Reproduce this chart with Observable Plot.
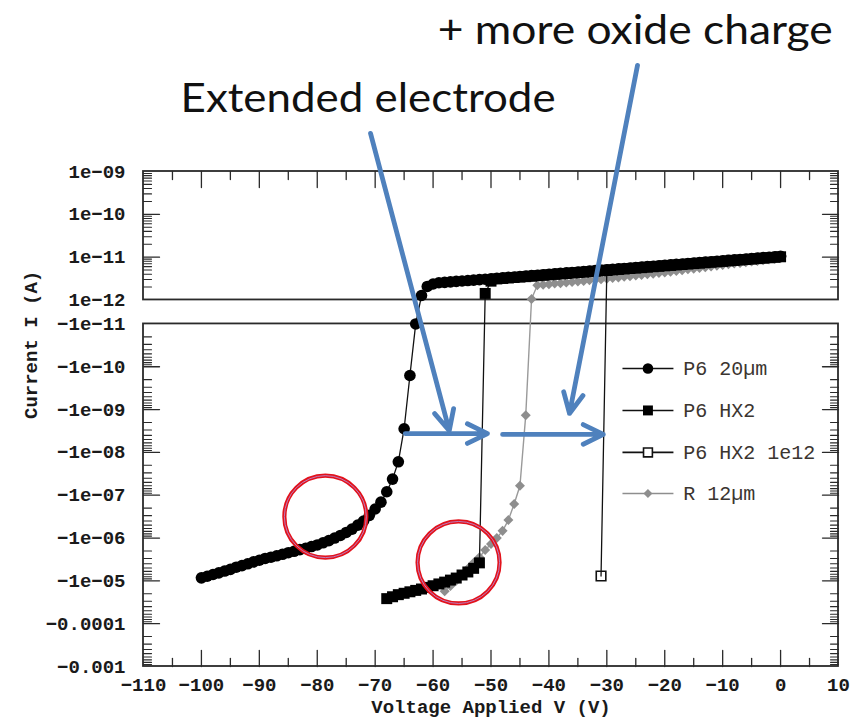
<!DOCTYPE html>
<html><head><meta charset="utf-8">
<script src="https://cdn.jsdelivr.net/npm/d3@7"></script>
<script src="https://cdn.jsdelivr.net/npm/@observablehq/plot@0.6"></script>
<style>
html,body{margin:0;padding:0;background:#fff}
#chart{width:858px;height:720px}
</style>
</head><body><div id="chart"></div>
<script>
// ---------------- data ----------------
const seriesNames = ["P6 20µm", "P6 HX2", "P6 HX2 1e12", "R 12µm"];

const voltsP6_20 = d3.range(-100, 1);
const currentP6_20 = [
  -8.5e-6,-7.8e-6,-7.1e-6,-6.5e-6,-5.9e-6,-5.4e-6,-4.8e-6,-4.4e-6,-4.0e-6,-3.6e-6,
  -3.3e-6,-3.0e-6,-2.8e-6,-2.6e-6,-2.4e-6,-2.2e-6,-2.04e-6,-1.86e-6,-1.74e-6,-1.58e-6,
  -1.45e-6,-1.29e-6,-1.15e-6,-1.0e-6,-8.7e-7,-7.4e-7,-6.2e-7,-5.0e-7,-4.0e-7,-2.95e-7,
  -2.1e-7,-1.45e-7,-8.3e-8,-4.2e-8,-1.66e-8,-2.8e-9,-1.6e-10,-1.0e-11,
  1.27e-12,2.07e-12,2.36e-12,
  2.52e-12,2.58e-12,2.64e-12,2.71e-12,2.77e-12,2.84e-12,2.91e-12,2.98e-12,3.05e-12,3.13e-12,
  3.20e-12,3.28e-12,3.36e-12,3.44e-12,3.53e-12,3.61e-12,3.70e-12,3.79e-12,3.89e-12,3.98e-12,
  4.08e-12,4.18e-12,4.28e-12,4.39e-12,4.49e-12,4.60e-12,4.72e-12,4.83e-12,4.95e-12,5.07e-12,
  5.19e-12,5.32e-12,5.45e-12,5.59e-12,5.72e-12,5.86e-12,6.01e-12,6.15e-12,6.30e-12,6.46e-12,
  6.62e-12,6.78e-12,6.94e-12,7.11e-12,7.29e-12,7.46e-12,7.65e-12,7.83e-12,8.02e-12,8.22e-12,
  8.42e-12,8.63e-12,8.84e-12,9.05e-12,9.27e-12,9.50e-12,9.73e-12,9.97e-12,1.02e-11,1.05e-11
];

const voltsHX2 = d3.range(-68, 1);
const currentHX2 = [
  -2.6e-5,-2.35e-5,-2.1e-5,-1.95e-5,-1.8e-5,-1.67e-5,-1.55e-5,-1.42e-5,-1.3e-5,-1.18e-5,
  -1.07e-5,-9.6e-6,-8.6e-6,-7.3e-6,-6.2e-6,-5.1e-6,-3.8e-6,
  1.42e-12,2.75e-12,
  3.10e-12,3.18e-12,3.26e-12,3.34e-12,3.42e-12,3.50e-12,3.59e-12,3.68e-12,3.77e-12,3.86e-12,
  3.96e-12,4.05e-12,4.15e-12,4.26e-12,4.36e-12,4.46e-12,4.58e-12,4.69e-12,4.80e-12,4.92e-12,
  5.03e-12,5.16e-12,5.29e-12,5.42e-12,5.55e-12,5.68e-12,5.83e-12,5.97e-12,6.11e-12,6.27e-12,
  6.42e-12,6.58e-12,6.73e-12,6.90e-12,7.07e-12,7.24e-12,7.42e-12,7.60e-12,7.78e-12,7.97e-12,
  8.17e-12,8.37e-12,8.57e-12,8.78e-12,8.99e-12,9.22e-12,9.44e-12,9.67e-12,9.89e-12,1.02e-11
];

const voltsHX2_1e12 = [-31, -30];
const currentHX2_1e12 = [-7.7e-6, 4.92e-12];

const voltsR12 = d3.range(-58, 1);
const currentR12 = [
  -1.74e-5,-1.32e-5,-1.0e-5,-7.2e-6,-5.2e-6,-3.8e-6,-2.8e-6,-1.9e-6,-1.38e-6,-1.0e-6,
  -6.8e-7,-3.8e-7,-1.6e-7,-6.0e-8,-1.35e-9,
  1.05e-12,2.2e-12,
  2.26e-12,2.33e-12,2.41e-12,2.47e-12,2.55e-12,2.63e-12,2.69e-12,2.78e-12,2.88e-12,2.95e-12,
  3.04e-12,3.14e-12,3.25e-12,3.36e-12,3.48e-12,3.60e-12,3.72e-12,3.84e-12,3.98e-12,4.11e-12,
  4.25e-12,4.39e-12,4.57e-12,4.75e-12,4.93e-12,5.19e-12,5.39e-12,5.60e-12,5.81e-12,6.03e-12,
  6.30e-12,6.58e-12,6.82e-12,7.08e-12,7.34e-12,7.60e-12,7.88e-12,8.17e-12,8.47e-12,8.77e-12,
  9.08e-12,9.45e-12
];

const xTickValues = [-110,-100,-90,-80,-70,-60,-50,-40,-30,-20,-10,0,10];
const xTickLabels = ["−110","−100","−90","−80","−70","−60","−50","−40","−30","−20","−10","0","10"];
const yTickValues = [1e-9,1e-10,1e-11,1e-12,-1e-11,-1e-10,-1e-9,-1e-8,-1e-7,-1e-6,-1e-5,-1e-4,-1e-3];
const yTickLabels = ["1e−09","1e−10","1e−11","1e−12","−1e−11","−1e−10","−1e−09","−1e−08","−1e−07","−1e−06","−1e−05","−0.0001","−0.001"];

const xTitle = "Voltage Applied V (V)";
const yTitle = "Current I (A)";
const noteElectrode = "Extended electrode";
const noteOxide = "+ more oxide charge";

// ---------------- layout (axis transform: two log panels, positive on top, negative below) ----------------
const X_DOMAIN = [-110, 10];
const GAP = 0.56;                 // gap between panels, in decades
const T_DOMAIN = [-GAP - 8, 3];   // -1e-3 ... 1e-9
function toT(I) { return I > 0 ? Math.log10(I) + 12 : -GAP - (Math.log10(-I) + 11); }

const panels = [
  {x1: X_DOMAIN[0], x2: X_DOMAIN[1], y1: toT(1e-12), y2: toT(1e-9)},
  {x1: X_DOMAIN[0], x2: X_DOMAIN[1], y1: toT(-1e-3), y2: toT(-1e-11)}
];

const rows = (V, I, s) => V.map((v, i) => ({V: v, I: I[i], t: toT(I[i]), series: s}));
const rowsP6 = rows(voltsP6_20, currentP6_20, seriesNames[0]);
const rowsHX2 = rows(voltsHX2, currentHX2, seriesNames[1]);
const rows1e12 = rows(voltsHX2_1e12, currentHX2_1e12, seriesNames[2]);
const rowsR = rows(voltsR12, currentR12, seriesNames[3]);

// ticks
const xMajor = xTickValues.slice(1, -1);
const xMinor = xTickValues.slice(0, -1).map(v => v + 5);
const yMajor = [1e-11, 1e-10, -1e-10, -1e-9, -1e-8, -1e-7, -1e-6, -1e-5, -1e-4];
const yMinor = [];
for (const d of [-12, -11, -10]) for (let k = 2; k <= 9; k++) yMinor.push(k * Math.pow(10, d));
for (let d = -11; d <= -4; d++) for (let k = 2; k <= 9; k++) yMinor.push(-k * Math.pow(10, d));

const tickShape = {draw(ctx, l) { ctx.moveTo(0, 0); ctx.lineTo(0, -l); }};
const diamond = {draw(ctx, size) { const h = Math.sqrt(size / 2); ctx.moveTo(0, -h); ctx.lineTo(h, 0); ctx.lineTo(0, h); ctx.lineTo(-h, 0); ctx.closePath(); }};

const AXIS = "#2a2a2a";
const BLUE = "#4f81bd";
const MONO = "Liberation Mono, DejaVu Sans Mono, monospace";

// annotations (data coordinates: V, t)
const arrows = [
  {x1: -70.8, y1: 3.89, x2: -57.2, y2: -3.05},
  {x1: -24.7, y1: 5.48, x2: -36.45, y2: -2.65},
  {x1: -64.8, y1: -3.12, x2: -50.6, y2: -3.12},
  {x1: -48.0, y1: -3.14, x2: -30.6, y2: -3.14}
];
const rings = [{V: -78.6, t: -5.06}, {V: -55.6, t: -6.13}];
const notes = [
  {V: -103.6, t: 4.38, text: noteElectrode, len: 375},
  {V: -59.2, t: 5.97, text: noteOxide, len: 395}
];
const legendT = [-1.60, -2.58, -3.56, -4.52];
const legendX = {line1: -27.3, line2: -18.5, mark: -22.9, text: -16.8};
const legendStyle = [
  {symbol: "circle", r: 5.3, fill: "#000", stroke: "none", line: "#111"},
  {symbol: "square", r: 5.6, fill: "#000", stroke: "none", line: "#111"},
  {symbol: "square", r: 5.0, fill: "#fff", stroke: "#111", line: "#111"},
  {symbol: diamond, r: 3.6, fill: "#8e8e8e", stroke: "none", line: "#8e8e8e"}
];
const legendRows = seriesNames.map((name, i) => ({name, t: legendT[i], ...legendStyle[i]}));

const chart = Plot.plot({
  width: 858, height: 720,
  marginLeft: 143, marginRight: 20, marginTop: 171, marginBottom: 54,
  x: {domain: X_DOMAIN, axis: null},
  y: {domain: T_DOMAIN, axis: null},
  style: {background: "#fff", overflow: "visible"},
  marks: [
    // ticks
    Plot.vector(xMajor, {x: d => d, frameAnchor: "top", anchor: "start", rotate: 180, length: 16, shape: tickShape, stroke: AXIS, strokeWidth: 1.3}),
    Plot.vector(xMinor, {x: d => d, frameAnchor: "top", anchor: "start", rotate: 180, length: 8, shape: tickShape, stroke: AXIS, strokeWidth: 1.3}),
    Plot.vector(xMajor, {x: d => d, frameAnchor: "bottom", anchor: "start", rotate: 0, length: 16, shape: tickShape, stroke: AXIS, strokeWidth: 1.3}),
    Plot.vector(xMinor, {x: d => d, frameAnchor: "bottom", anchor: "start", rotate: 0, length: 8, shape: tickShape, stroke: AXIS, strokeWidth: 1.3}),
    Plot.vector(yMajor, {y: d => toT(d), frameAnchor: "left", anchor: "start", rotate: 90, length: 16, shape: tickShape, stroke: AXIS, strokeWidth: 1.3}),
    Plot.vector(yMinor, {y: d => toT(d), frameAnchor: "left", anchor: "start", rotate: 90, length: 8, shape: tickShape, stroke: AXIS, strokeWidth: 1.1}),
    Plot.vector(yMajor, {y: d => toT(d), frameAnchor: "right", anchor: "start", rotate: -90, length: 16, shape: tickShape, stroke: AXIS, strokeWidth: 1.3}),
    Plot.vector(yMinor, {y: d => toT(d), frameAnchor: "right", anchor: "start", rotate: -90, length: 8, shape: tickShape, stroke: AXIS, strokeWidth: 1.1}),
    // panel frames
    Plot.rect(panels, {x1: "x1", x2: "x2", y1: "y1", y2: "y2", fill: "none", stroke: AXIS, strokeWidth: 1.8}),
    // tick labels
    Plot.text(xTickValues, {x: d => d, frameAnchor: "bottom", dy: 24, text: (d, i) => xTickLabels[i], fontFamily: MONO, fontWeight: "bold", fontSize: 19, fill: "#1a1a1a"}),
    Plot.text(yTickValues, {y: d => toT(d), frameAnchor: "left", dx: -18, textAnchor: "end", text: (d, i) => yTickLabels[i], fontFamily: MONO, fontWeight: "bold", fontSize: 19, fill: "#1a1a1a"}),
    Plot.text([xTitle], {frameAnchor: "bottom", dy: 46, text: d => d, fontFamily: MONO, fontWeight: "bold", fontSize: 19, fill: "#1a1a1a"}),
    Plot.text([yTitle], {frameAnchor: "left", dx: -113, rotate: -90, text: d => d, fontFamily: MONO, fontWeight: "bold", fontSize: 19, fill: "#1a1a1a"}),
    // series
    Plot.line(rowsR, {x: "V", y: "t", stroke: "#9a9a9a", strokeWidth: 1.4}),
    Plot.dot(rowsR, {x: "V", y: "t", symbol: diamond, r: 4.0, fill: "#8e8e8e"}),
    Plot.dot(rows1e12, {x: "V", y: "t", symbol: "square", r: 5.4, fill: "#fff", stroke: "#111", strokeWidth: 1.6}),
    Plot.line(rows1e12, {x: "V", y: "t", stroke: "#111", strokeWidth: 1.3}),
    Plot.line(rowsHX2, {x: "V", y: "t", stroke: "#111", strokeWidth: 1.3}),
    Plot.dot(rowsHX2, {x: "V", y: "t", symbol: "square", r: 6.2, fill: "#000"}),
    Plot.line(rowsP6, {x: "V", y: "t", stroke: "#111", strokeWidth: 1.3}),
    Plot.dot(rowsP6, {x: "V", y: "t", r: 5.8, fill: "#000"}),
    // legend
    Plot.link(legendRows, {x1: () => legendX.line1, x2: () => legendX.line2, y1: "t", y2: "t", stroke: d => d.line, strokeWidth: 1.6}),
    ...legendRows.map(d => Plot.dot([d], {x: () => legendX.mark, y: "t", symbol: d.symbol, r: d.r, fill: d.fill, stroke: d.stroke, strokeWidth: 1.6})),
    Plot.text(legendRows, {x: () => legendX.text, y: "t", text: "name", textAnchor: "start", fontFamily: MONO, fontSize: 20, fill: "#3b3530"}),
    // annotations
    Plot.arrow(arrows, {x1: "x1", y1: "y1", x2: "x2", y2: "y2", stroke: BLUE, strokeWidth: 4.8, headLength: 7, headAngle: 52}),
    Plot.dot(rings, {x: "V", y: "t", r: 41, fill: "none", stroke: "#e3121b", strokeWidth: 4.2}),
    Plot.dot(rings, {x: "V", y: "t", r: 41, fill: "none", stroke: "#b58ad0", strokeWidth: 0.9}),
    Plot.text(notes, {x: "V", y: "t", text: "text", textAnchor: "start", lineAnchor: "bottom", fontFamily: "Lato, Open Sans, sans-serif", fontSize: 40, fill: "#111"})
  ]
});

// stretch the big notes to the reference widths
chart.querySelectorAll("text").forEach(el => {
  const n = notes.find(d => d.text === el.textContent);
  if (n) { el.setAttribute("textLength", n.len); el.setAttribute("lengthAdjust", "spacingAndGlyphs"); }
});
document.getElementById("chart").appendChild(chart);
</script>
</body></html>
